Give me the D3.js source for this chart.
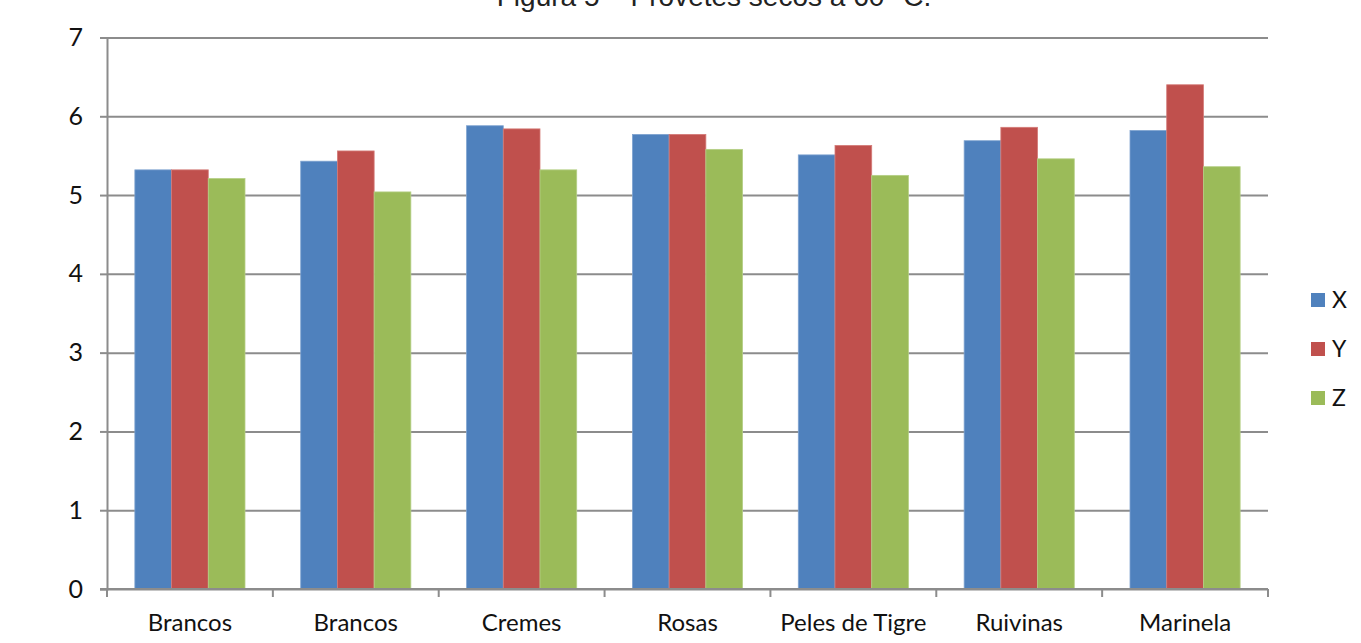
<!DOCTYPE html>
<html>
<head>
<meta charset="utf-8">
<script src="https://cdn.jsdelivr.net/npm/d3@7"></script>
<style>
  body { margin: 0; background: #fff; }
  svg { display: block; }
</style>
</head>
<body>
<svg id="chart"></svg>
<script>
// values
const categories = ['Brancos', 'Brancos', 'Cremes', 'Rosas', 'Peles de Tigre', 'Ruivinas', 'Marinela'];
const seriesNames = ['X', 'Y', 'Z'];
const xValues = [5.32, 5.43, 5.88, 5.77, 5.51, 5.69, 5.82];
const yValues = [5.32, 5.56, 5.84, 5.77, 5.63, 5.86, 6.40];
const zValues = [5.21, 5.04, 5.32, 5.58, 5.25, 5.46, 5.36];
const yTicks = [0, 1, 2, 3, 4, 5, 6, 7];
const title = 'Figura 5 – Provetes secos a 60 °C.';

const colors = ['#4F81BD', '#C0504D', '#9BBB59'];
const border = ['#7fa3d0', '#d47b78', '#b5cf86'];

const width = 1361, height = 643;
const margin = { left: 107, right: 93, top: 37.5, bottom: 54 };

const svg = d3.select('#chart')
    .attr('width', width)
    .attr('height', height);

const series = [xValues, yValues, zValues];
const data = categories.map((c, i) => ({ i, c, vals: series.map(s => s[i]) }));

// scales
const x = d3.scaleBand()
    .domain(d3.range(categories.length))
    .range([margin.left, width - margin.right])
    .paddingInner(0.336)
    .paddingOuter(0.168);

const xSub = d3.scaleBand()
    .domain(d3.range(seriesNames.length))
    .range([0, x.bandwidth()]);

const y = d3.scaleLinear()
    .domain([0, 7])
    .range([height - margin.bottom, margin.top]);

// gridlines
svg.append('g')
    .attr('transform', `translate(${margin.left},0)`)
    .call(d3.axisLeft(y).tickValues(yTicks)
        .tickSize(-(width - margin.left - margin.right)).tickFormat(''))
    .call(g => g.select('.domain').remove())
    .call(g => g.selectAll('line').attr('stroke', '#8c8c8c').attr('stroke-width', 2));

// bars
svg.append('g')
    .selectAll('g')
    .data(data)
    .join('g')
    .attr('transform', d => `translate(${x(d.i)},0)`)
    .selectAll('rect')
    .data(d => d.vals.map((v, k) => ({ v, k })))
    .join('rect')
    .attr('x', d => xSub(d.k))
    .attr('y', d => y(d.v))
    .attr('width', xSub.bandwidth())
    .attr('height', d => y(0) - y(d.v))
    .attr('fill', d => colors[d.k])
    .attr('stroke', d => border[d.k])
    .attr('stroke-width', 0.8);

// y axis
svg.append('g')
    .attr('transform', `translate(${margin.left},0)`)
    .call(d3.axisLeft(y).tickValues(yTicks).tickFormat(d3.format('d')).tickSize(7).tickPadding(17))
    .call(g => g.select('.domain').attr('stroke', '#8c8c8c').attr('stroke-width', 2))
    .call(g => g.selectAll('line').attr('stroke', '#8c8c8c').attr('stroke-width', 2))
    .call(g => g.selectAll('text')
        .attr('font-family', 'Lato, "Open Sans", sans-serif')
        .attr('font-size', 25)
        .attr('fill', '#111'));

// x axis with ticks between categories
const xAxisG = svg.append('g')
    .attr('transform', `translate(0,${y(0)})`);

xAxisG.append('line')
    .attr('x1', margin.left - 7).attr('x2', width - margin.right)
    .attr('stroke', '#8c8c8c').attr('stroke-width', 2);

const boundaries = d3.range(categories.length + 1).map(i =>
    i < categories.length ? x(i) - x.step() * x.paddingInner() / 2 : x(i - 1) + x.bandwidth() + x.step() * x.paddingInner() / 2);

xAxisG.selectAll('.btick')
    .data(boundaries)
    .join('line')
    .attr('class', 'btick')
    .attr('x1', d => d).attr('x2', d => d)
    .attr('y1', 0).attr('y2', 8)
    .attr('stroke', '#8c8c8c').attr('stroke-width', 2);

xAxisG.selectAll('.clabel')
    .data(data)
    .join('text')
    .attr('class', 'clabel')
    .attr('x', d => x(d.i) + x.bandwidth() / 2)
    .attr('y', 42)
    .attr('text-anchor', 'middle')
    .attr('font-family', 'Lato, "Open Sans", sans-serif')
    .attr('font-size', 24)
    .attr('fill', '#111')
    .text(d => d.c);

// legend
const legend = svg.append('g')
    .attr('transform', 'translate(1311,300)');

legend.selectAll('g')
    .data(seriesNames)
    .join('g')
    .attr('transform', (d, i) => `translate(0,${i * 49})`)
    .call(g => g.append('rect')
        .attr('x', 0).attr('y', -7)
        .attr('width', 14).attr('height', 14)
        .attr('fill', (d, i) => colors[i]))
    .call(g => g.append('text')
        .attr('x', 21).attr('y', 8)
        .attr('font-family', 'Lato, "Open Sans", sans-serif')
        .attr('font-size', 23)
        .attr('fill', '#111')
        .text(d => d));

// title (cut off at top as in the reference)
svg.append('text')
    .attr('x', 714)
    .attr('y', 6)
    .attr('text-anchor', 'middle')
    .attr('font-family', '"Liberation Sans", Arial, sans-serif')
    .attr('font-size', 28)
    .attr('fill', '#222')
    .text(title);
</script>
</body>
</html>
